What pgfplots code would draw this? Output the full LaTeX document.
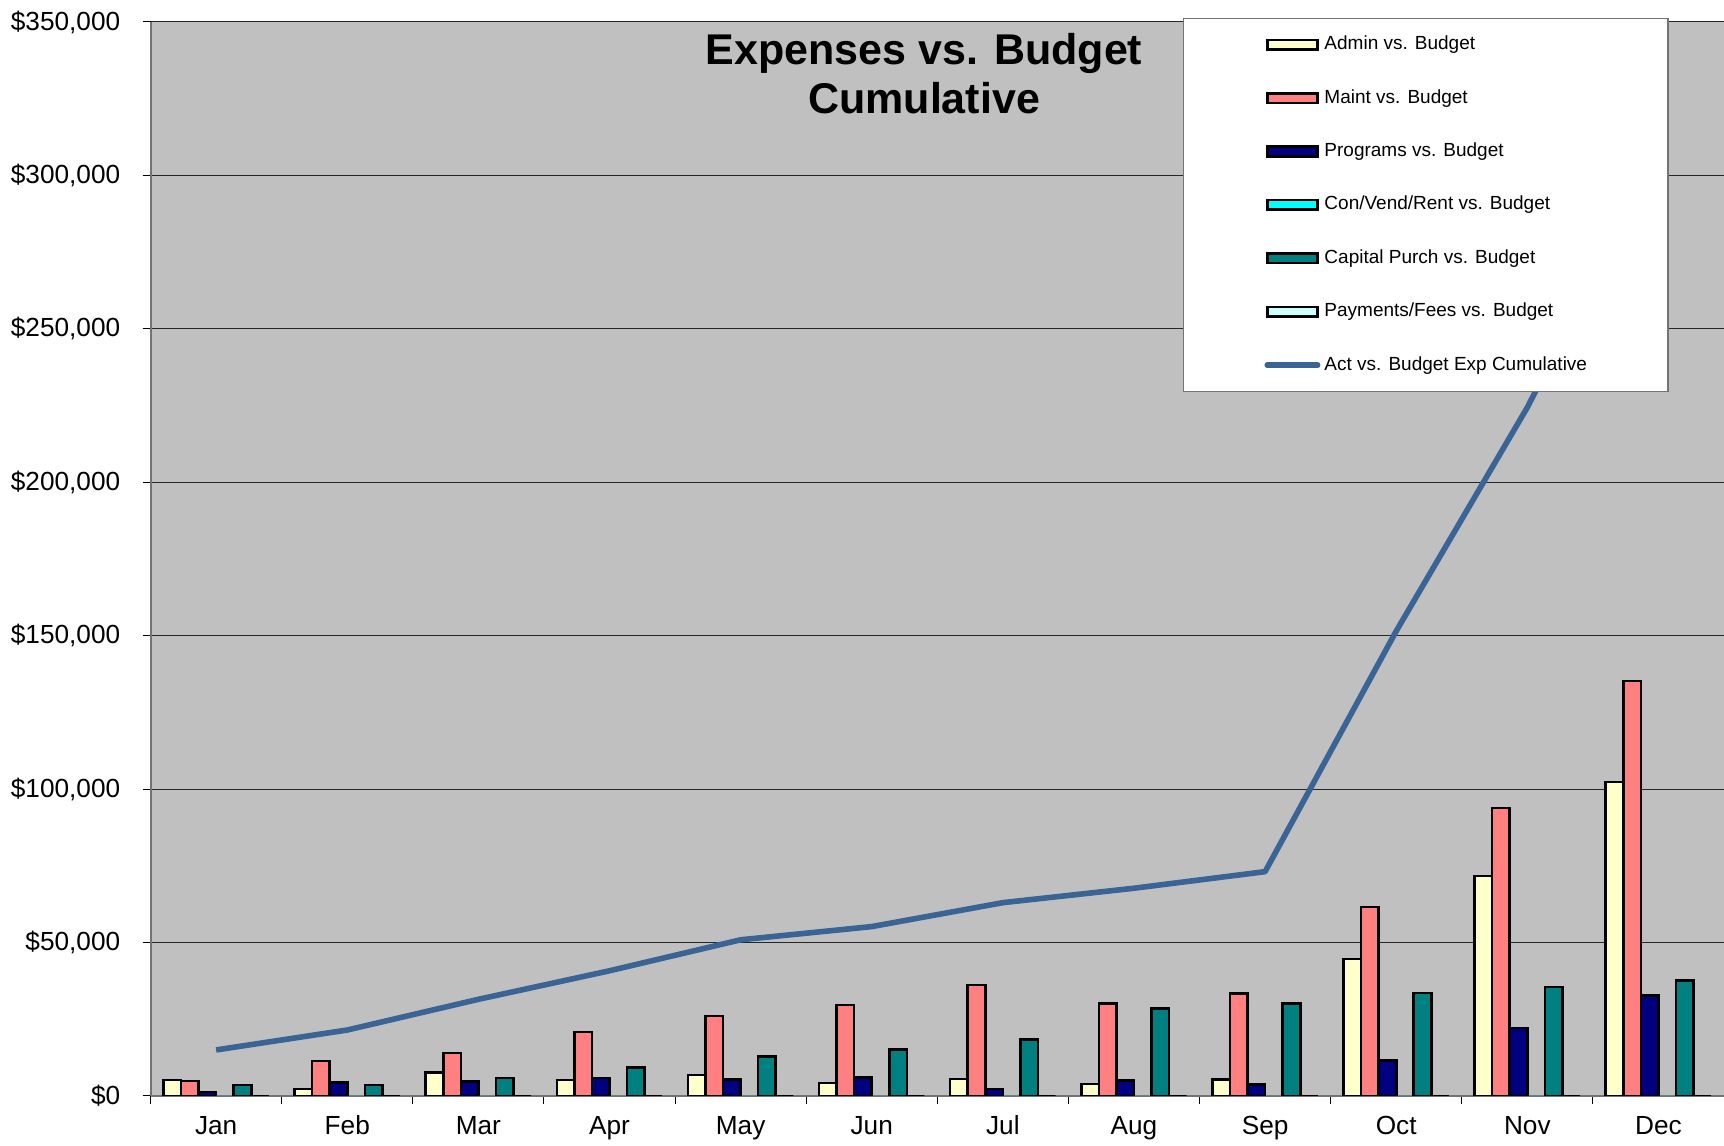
\documentclass[border=0pt]{standalone}
\usepackage{pgfplots}
\pgfplotsset{compat=1.18}
\usepackage{pgfplotstable}
\usepackage{fontspec}
\setmainfont{Liberation Sans}
\definecolor{admin}{HTML}{FFFFCC}
\definecolor{maint}{HTML}{FF8080}
\definecolor{prog}{HTML}{000080}
\definecolor{convend}{HTML}{00FFFF}
\definecolor{capital}{HTML}{008080}
\definecolor{payfee}{HTML}{CCFFFF}
\definecolor{cumline}{HTML}{3A6496}
\definecolor{plotbg}{HTML}{C0C0C0}
\pgfplotstableread{
x admin maint prog con cap pay cum
0 5200 4900 1300 0 3600 0 15000
1 2300 11400 4450 0 3600 0 21500
2 7700 14000 4800 0 5900 0 31500
3 5200 20800 5900 0 9200 0 40800
4 6800 26000 5300 0 12900 0 50900
5 4200 29600 6000 0 15200 0 55200
6 5500 36200 2300 0 18500 0 63000
7 3900 30200 5100 0 28500 0 67700
8 5400 33300 3800 0 30100 0 73100
9 44700 61600 11600 0 33500 0 151500
10 71700 93900 22100 0 35500 0 224400
11 102300 135300 32700 0 37700 0 308000
}\data
\pgfplotsset{barleg/.style={legend image code/.code={\draw[##1, draw=black, line width=1.3pt] (0pt,-2.4pt) rectangle (25.2pt,2.4pt);}}}
\begin{document}
\begin{tikzpicture}
\begin{axis}[
  width=786.7pt, height=537pt, scale only axis,
  xmin=-0.5, xmax=11.5, ymin=0, ymax=350000,
  enlargelimits=false,
  axis background/.style={fill=plotbg},
  ybar=0pt, bar width=0.134,
  axis x line*=bottom, axis y line*=left,
  axis line style={draw=black!55, line width=1pt, -},
  xtick={-0.5,0.5,1.5,2.5,3.5,4.5,5.5,6.5,7.5,8.5,9.5,10.5,11.5},
  xticklabels={Jan,Feb,Mar,Apr,May,Jun,Jul,Aug,Sep,Oct,Nov,Dec},
  x tick label as interval,
  ytick={0,50000,100000,150000,200000,250000,300000,350000},
  yticklabels={{\$0},{\$50,000},{\$100,000},{\$150,000},{\$200,000},{\$250,000},{\$300,000},{\$350,000}},
  scaled y ticks=false,
  tick align=outside, major tick length=4pt,
  tick style={draw=black, line width=0.5pt},
  ymajorgrids, major grid style={draw=black!85, line width=0.5pt},
  ticklabel style={font=\fontsize{13.1}{15}\selectfont},
  yticklabel style={inner sep=0pt, anchor=east, xshift=-11pt},
  xticklabel style={inner sep=0pt, anchor=base, yshift=-15.5pt},
  legend style={at={(0.656,1)}, anchor=north west, yshift=2.2pt,
    draw=black!55, line width=0.7pt, fill=white,
    inner xsep=40.5pt, inner ysep=8.7pt, row sep=17.7pt, column sep=2pt,
    font=\fontsize{9.5}{11}\selectfont,
    nodes={text height=7pt, text depth=2pt, inner sep=0pt}},
  legend cell align=left,
]
\addplot[fill=admin, draw=black, line width=1.3pt, barleg] table[x=x,y=admin]{\data};
\addplot[fill=maint, draw=black, line width=1.3pt, barleg] table[x=x,y=maint]{\data};
\addplot[fill=prog, draw=black, line width=1.3pt, barleg] table[x=x,y=prog]{\data};
\addplot[fill=convend, draw=none, legend image code/.code={\draw[fill=convend, draw=black, line width=1.3pt] (0pt,-2.4pt) rectangle (25.2pt,2.4pt);}] table[x=x,y=con]{\data};
\addplot[fill=capital, draw=black, line width=1.3pt, barleg] table[x=x,y=cap]{\data};
\addplot[fill=payfee, draw=black, line width=1.3pt, barleg] table[x=x,y=pay]{\data};
\addplot[sharp plot, draw=cumline, line width=2.8pt, line join=round, mark=none,
  legend image code/.code={\draw[cumline, line width=2.8pt, line cap=round] (0pt,0pt) -- (25.2pt,0pt);}] table[x=x,y=cum]{\data};
\legend{Admin vs. Budget, Maint vs. Budget, Programs vs. Budget, Con/Vend/Rent vs. Budget, Capital Purch vs. Budget, Payments/Fees vs. Budget, Act vs. Budget Exp Cumulative}
\node[font=\bfseries\fontsize{21.5}{24.5}\selectfont, align=center, anchor=north, inner sep=0pt] at (rel axis cs:0.4916,0.9896) {Expenses vs. Budget\\Cumulative};
\end{axis}
\pgfresetboundingbox
\path ([xshift=-75.3pt,yshift=-25pt]current axis.south west) rectangle ([yshift=11pt]current axis.north east);
\end{tikzpicture}
\end{document}
